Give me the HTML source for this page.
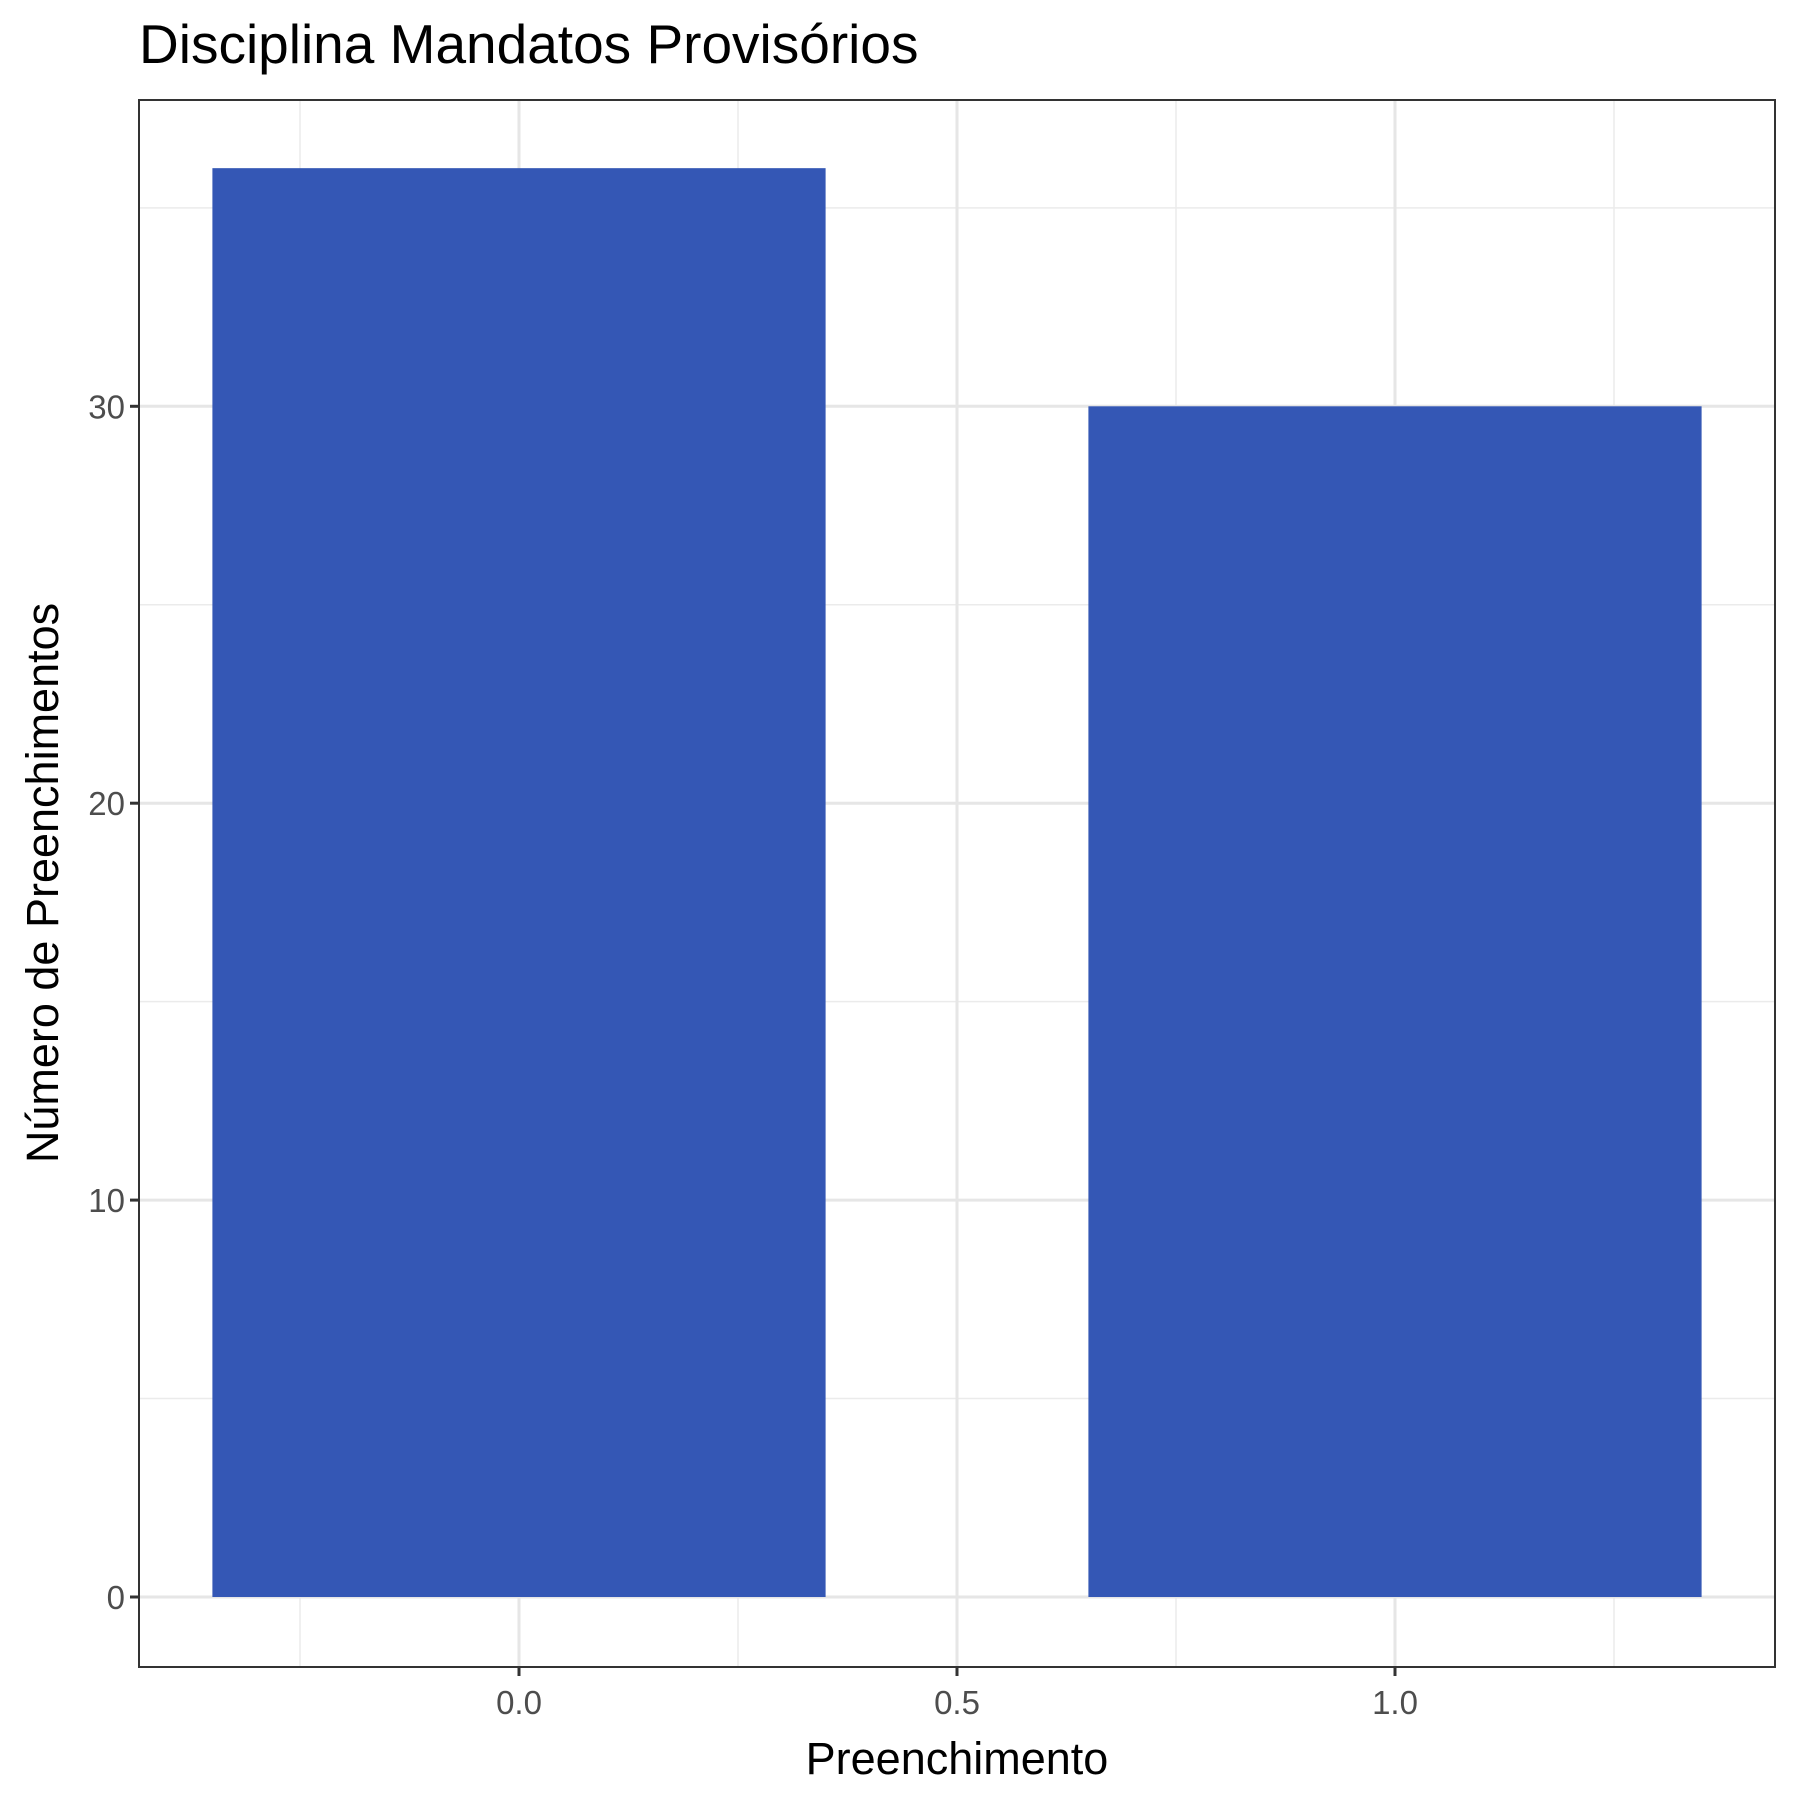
<!DOCTYPE html>
<html><head><meta charset="utf-8"><style>html,body{margin:0;padding:0;background:#fff}svg{display:block}text{font-family:"Liberation Sans",Arial,sans-serif}</style></head>
<body>
<svg id="chart" width="1800" height="1800" xmlns="http://www.w3.org/2000/svg">
<text x="139" y="63" font-size="55" fill="#000">Disciplina Mandatos Provisórios</text>
<g id="grid"></g><g id="bars"></g><g id="axes"></g>
<text x="957" y="1774" font-size="45" text-anchor="middle" fill="#000">Preenchimento</text>
<text transform="translate(58,883) rotate(-90)" font-size="45" text-anchor="middle" fill="#000">Número de Preenchimentos</text>
</svg>
<script>
const categories = [0, 1];
const values = [36, 30];
const xTicks = [0, 0.5, 1];
const xTickLabels = ["0.0", "0.5", "1.0"];
const yTicks = [0, 10, 20, 30];
const yTickLabels = ["0", "10", "20", "30"];
const barWidth = 0.7;

const P = {l:139, r:1775, t:100, b:1667};
const xs = v => 519 + v * 876;
const ys = v => 1597 - v * 39.69;
const NS = "http://www.w3.org/2000/svg";
function mk(tag, attrs, parent){const e=document.createElementNS(NS,tag);for(const k in attrs)e.setAttribute(k,attrs[k]);parent.appendChild(e);return e;}
const grid=document.getElementById('grid'), bars=document.getElementById('bars'), axes=document.getElementById('axes');
mk('rect',{x:P.l,y:P.t,width:P.r-P.l,height:P.b-P.t,fill:'#fff'},grid);
[-0.25,0.25,0.75,1.25].forEach(v=>{const l=mk('line',{x1:xs(v),x2:xs(v),y1:P.t,y2:P.b,stroke:'#ebebeb','stroke-width':1.5},grid);

});
[5,15,25,35].forEach(v=>{const l=mk('line',{x1:P.l,x2:P.r,y1:ys(v),y2:ys(v),stroke:'#ebebeb','stroke-width':1.5},grid);

});
xTicks.forEach((v,i)=>{const l=mk('line',{x1:xs(v),x2:xs(v),y1:P.t,y2:P.b,stroke:'#e6e6e6','stroke-width':3},grid);


const t=mk('line',{x1:xs(v),x2:xs(v),y1:P.b,y2:P.b+9,stroke:'#333','stroke-width':3},axes);


const tx=mk('text',{x:xs(v),y:P.b+47,'font-size':33,fill:'#4d4d4d','text-anchor':'middle'},axes);tx.textContent=xTickLabels[i];

});
yTicks.forEach((v,i)=>{const l=mk('line',{x1:P.l,x2:P.r,y1:ys(v),y2:ys(v),stroke:'#e6e6e6','stroke-width':3},grid);


const t=mk('line',{x1:P.l-9,x2:P.l,y1:ys(v),y2:ys(v),stroke:'#333','stroke-width':3},axes);


const tx=mk('text',{x:P.l-14,y:ys(v)+12,'font-size':33,fill:'#4d4d4d','text-anchor':'end'},axes);tx.textContent=yTickLabels[i];

});
categories.forEach((c,i)=>{const r=mk('rect',{x:xs(c-barWidth/2),y:ys(values[i]),width:xs(c+barWidth/2)-xs(c-barWidth/2),height:ys(0)-ys(values[i]),fill:'#3457b5'},bars);

});
const fr=mk('rect',{x:P.l,y:P.t,width:P.r-P.l,height:P.b-P.t,fill:'none',stroke:'#333','stroke-width':2},axes);


</script>
</body></html>
